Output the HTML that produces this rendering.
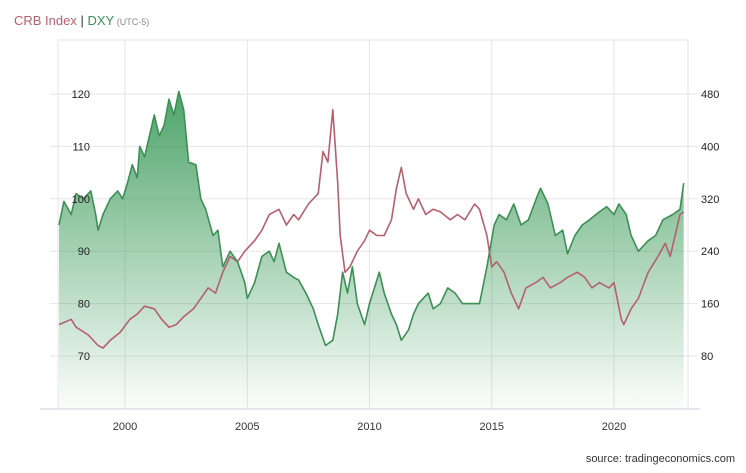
<!DOCTYPE html>
<html><head><meta charset="utf-8"><style>
body{margin:0;background:#fff;font-family:"Liberation Sans",sans-serif}
svg text{font-family:"Liberation Sans",sans-serif}
</style></head><body>
<svg id="c" width="746" height="468">
<defs><linearGradient id="g" x1="0" y1="0" x2="0" y2="1">
<stop offset="0" stop-color="#3a9a58" stop-opacity="0.9"/>
<stop offset="1" stop-color="#3a9a58" stop-opacity="0.02"/></linearGradient></defs>
<text x="14" y="25" font-size="13"><tspan fill="#b5606e">CRB Index</tspan><tspan fill="#333"> | </tspan><tspan fill="#3d8f55">DXY</tspan><tspan fill="#888" font-size="9"> (UTC-5)</tspan></text>
<text x="735" y="462" font-size="11" text-anchor="end" fill="#333">source: tradingeconomics.com</text>
<g id="grid"></g><g id="marks"></g><g id="axes"></g>
</svg>
<script>
const dxyDates=[1997.3,1997.5,1997.8,1998.0,1998.3,1998.6,1998.8,1998.9,1999.1,1999.4,1999.7,1999.9,2000.1,2000.3,2000.5,2000.6,2000.8,2001.0,2001.2,2001.4,2001.6,2001.8,2002.0,2002.2,2002.4,2002.6,2002.9,2003.1,2003.3,2003.6,2003.8,2004.0,2004.3,2004.6,2004.9,2005.0,2005.3,2005.6,2005.9,2006.1,2006.3,2006.6,2006.9,2007.1,2007.4,2007.7,2007.9,2008.2,2008.5,2008.7,2008.9,2009.1,2009.3,2009.5,2009.8,2010.0,2010.4,2010.6,2010.9,2011.1,2011.3,2011.6,2011.8,2012.0,2012.4,2012.6,2012.9,2013.2,2013.5,2013.8,2014.2,2014.5,2014.8,2015.1,2015.3,2015.6,2015.9,2016.2,2016.5,2016.9,2017.0,2017.3,2017.6,2017.9,2018.1,2018.4,2018.7,2019.0,2019.4,2019.7,2020.0,2020.2,2020.5,2020.7,2021.0,2021.4,2021.7,2022.0,2022.4,2022.7,2022.85];
const dxyValues=[95,99.5,97,101,100,101.5,97,94,97,100,101.5,100,103,106.5,104,110,108,112,116,112,114,119,116,120.5,117,107,106.5,100,98,93,94,87,90,88,84,81,84,89,90,88,91.5,86,85,84.5,82,79,76,72,73,78,86,82,87,80,76,80,86,82,78,76,73,75,78,80,82,79,80,83,82,80,80,80,87,95,97,96,99,95,96,101,102,99,93,94,89.5,93,95,96,97.5,98.5,97,99,97,93,90,92,93,96,97,98,103];
const crbDates=[1997.3,1997.8,1998.0,1998.5,1998.9,1999.1,1999.4,1999.8,2000.2,2000.5,2000.8,2001.2,2001.5,2001.8,2002.1,2002.4,2002.8,2003.1,2003.4,2003.7,2004.0,2004.3,2004.6,2004.9,2005.3,2005.6,2005.9,2006.3,2006.6,2006.9,2007.1,2007.5,2007.9,2008.1,2008.3,2008.5,2008.7,2008.8,2009.0,2009.2,2009.5,2009.8,2010.0,2010.3,2010.6,2010.9,2011.1,2011.3,2011.5,2011.8,2012.0,2012.3,2012.6,2012.9,2013.3,2013.6,2013.9,2014.3,2014.5,2014.8,2015.0,2015.2,2015.5,2015.8,2016.1,2016.4,2016.8,2017.1,2017.4,2017.8,2018.1,2018.5,2018.8,2019.1,2019.4,2019.8,2020.0,2020.3,2020.4,2020.7,2021.0,2021.4,2021.8,2022.1,2022.3,2022.7,2022.85];
const crbValues=[128,136,124,112,96,92,104,116,136,144,156,152,136,124,128,140,152,168,184,176,208,232,224,240,256,272,296,304,280,296,288,312,328,392,376,456,344,264,208,216,240,256,272,264,264,288,336,368,328,304,320,296,304,300,288,296,288,312,304,264,216,224,208,176,152,184,192,200,184,192,200,208,200,184,192,184,192,136,128,152,168,208,232,252,232,296,300];
const leftTicks=[70,80,90,100,110,120];
const rightTicks=[80,160,240,320,400,480];
const yearTicks=[2000,2005,2010,2015,2020];
const X0=58,X1=688,Y0=40,Y1=409;
const x=t=>125+(t-2000)*24.45;
const yl=v=>94+(120-v)*5.24;
const yr=v=>94+(480-v)*0.655;
const NS='http://www.w3.org/2000/svg';
function mk(tag,attrs,parent,txt){const e=document.createElementNS(NS,tag);for(const k in attrs)e.setAttribute(k,attrs[k]);if(txt!==undefined)e.textContent=txt;document.getElementById(parent).appendChild(e);return e;}
let e;
e=mk('rect',{x:X0,y:Y0,width:X1-X0,height:Y1-Y0,fill:'none',stroke:'#e6e6e6'},'grid');


leftTicks.forEach((v,i)=>{
 e=mk('line',{x1:50,x2:698,y1:yl(v),y2:yl(v),stroke:'#e6e6e6'},'grid');
 
 
 e=mk('text',{x:90,y:yl(v)+4,'font-size':11,'text-anchor':'end',fill:'#222'},'axes',v);
 
 
 e=mk('text',{x:701,y:yr(rightTicks[i])+4,'font-size':11,fill:'#222'},'axes',rightTicks[i]);
 
 
});
yearTicks.forEach(t=>{
 e=mk('line',{x1:x(t),x2:x(t),y1:Y0,y2:Y1,stroke:'#e6e6e6'},'grid');
 
 
 e=mk('text',{x:x(t),y:430,'font-size':11,'text-anchor':'middle',fill:'#333'},'axes',t);
 
 
});
e=mk('line',{x1:40,x2:700,y1:Y1,y2:Y1,stroke:'#ccd'},'axes');


const gpts=dxyDates.map((t,i)=>x(t).toFixed(1)+','+yl(dxyValues[i]).toFixed(1));
const cpts=crbDates.map((t,i)=>x(t).toFixed(1)+','+yr(crbValues[i]).toFixed(1));
e=mk('path',{d:'M'+x(dxyDates[0])+','+Y1+' L'+gpts.join(' L')+' L'+x(dxyDates[dxyDates.length-1])+','+Y1+'Z',fill:'url(#g)'},'marks');


e=mk('path',{d:'M'+cpts.join(' L'),fill:'none',stroke:'#b5606e','stroke-width':1.6,'stroke-linejoin':'round'},'marks');


e=mk('path',{d:'M'+gpts.join(' L'),fill:'none',stroke:'#3d8f55','stroke-width':1.6,'stroke-linejoin':'round'},'marks');


</script>
</body></html>
